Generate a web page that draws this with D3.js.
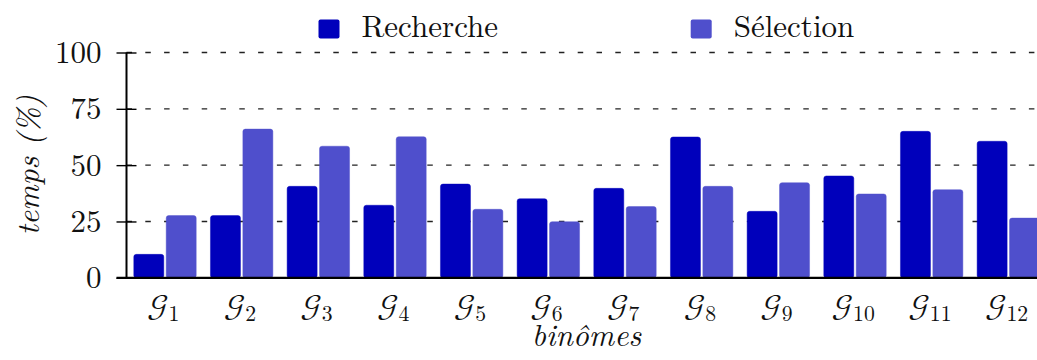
<!DOCTYPE html>
<html>
<head>
<meta charset="utf-8">
<script src="https://cdn.jsdelivr.net/npm/d3@7"></script>
<style>
  html, body { margin: 0; padding: 0; background: #fff; }
  svg { display: block; }
</style>
</head>
<body>
<svg id="chart" width="1037" height="360"></svg>
<script>
// Share of time (%) per pair of participants
const groups = ["1","2","3","4","5","6","7","8","9","10","11","12"];
const seriesNames = ["Recherche", "Sélection"];
const recherche = [10.4, 27.6, 40.6, 32.2, 41.6, 35.1, 39.7, 62.5, 29.5, 45.2, 65.0, 60.6];
const selection = [27.6, 66.0, 58.4, 62.6, 30.4, 24.9, 31.6, 40.6, 42.2, 37.2, 39.1, 26.5];
const yTicks = [0, 25, 50, 75, 100];
const colors = ["#0000bb", "#4f4fcc"];

const FONT = "\"Latin Modern Roman\", \"Liberation Serif\", serif";
const MATHFONT = "\"Latin Modern Math\", \"Latin Modern Roman\", serif";

const svg = d3.select("#chart");

const plotLeft = 126.5, plotRight = 1046.5, plotTop = 52.5, plotBottom = 277.8;

const y = d3.scaleLinear().domain([0, 100]).range([plotBottom, plotTop]);
const x0 = d3.scaleBand().domain(groups).range([plotLeft, plotRight]).padding(0);
const x1 = d3.scaleBand().domain(seriesNames).range([7.3, 69.7]).paddingInner(0.074);

const rows = groups.map((g, i) => ({ g, values: [recherche[i], selection[i]] }));

// dashed horizontal grid
svg.append("g")
  .selectAll("line")
  .data(yTicks.filter(d => d > 0))
  .join("line")
  .attr("x1", plotLeft).attr("x2", 1037)
  .attr("y1", d => y(d)).attr("y2", d => y(d))
  .attr("stroke", "#222")
  .attr("stroke-width", 1.3)
  .attr("stroke-dasharray", "5.5,13.3");

// bars
const gGroups = svg.append("g")
  .selectAll("g")
  .data(rows)
  .join("g")
  .attr("transform", d => `translate(${x0(d.g)},0)`);

gGroups.selectAll("rect")
  .data(d => d.values.map((v, k) => ({ k, v })))
  .join("rect")
  .attr("x", d => x1(seriesNames[d.k]))
  .attr("width", x1.bandwidth())
  .attr("y", d => y(d.v))
  .attr("height", d => y(0) - y(d.v))
  .attr("rx", 2.5)
  .attr("fill", d => colors[d.k])
  .attr("stroke", d => colors[d.k])
  .attr("stroke-opacity", 0.45)
  .attr("stroke-width", 1);

// y axis
const yAxis = d3.axisLeft(y).tickValues(yTicks).tickSize(0).tickPadding(0).tickFormat(d3.format("d"));
const ya = svg.append("g").attr("transform", `translate(${plotLeft},0)`).call(yAxis);
ya.attr("font-family", null).attr("font-size", null);
ya.select(".domain").remove();
ya.selectAll(".tick text")
  .attr("x", -25)
  .attr("dy", "0.32em")
  .style("font-family", FONT)
  .style("font-size", "31px")
  .attr("fill", "#111");
ya.selectAll(".tick").append("line")
  .attr("x1", -10).attr("x2", 10)
  .attr("stroke", "#000").attr("stroke-width", 1.4);

svg.append("line")
  .attr("x1", plotLeft).attr("x2", plotLeft)
  .attr("y1", plotTop).attr("y2", plotBottom + 1)
  .attr("stroke", "#000").attr("stroke-width", 2);

svg.append("line")
  .attr("x1", plotLeft - 10).attr("x2", 1037)
  .attr("y1", plotBottom).attr("y2", plotBottom)
  .attr("stroke", "#000").attr("stroke-width", 2.2);

// x tick labels: calligraphic G with subscript index
const xl = svg.append("g")
  .selectAll("text")
  .data(groups)
  .join("text")
  .attr("x", d => x0(d) + x0.bandwidth() / 2 - 1.5)
  .attr("y", 316)
  .attr("text-anchor", "middle")
  .attr("fill", "#111")
  .style("font-family", FONT)
  .style("font-size", "31px");
xl.append("tspan").text("𝒢").style("font-family", MATHFONT);
xl.append("tspan").text(d => d).attr("dy", 4.6).style("font-size", "21.7px");

// axis titles
svg.append("text")
  .attr("x", (plotLeft + plotRight) / 2)
  .attr("y", 346)
  .attr("text-anchor", "middle")
  .attr("fill", "#111")
  .style("font-family", FONT)
  .style("font-size", "31px")
  .style("font-style", "italic")
  .text("binômes");

svg.append("text")
  .attr("transform", `translate(39,${(plotTop + plotBottom) / 2}) rotate(-90)`)
  .attr("text-anchor", "middle")
  .attr("fill", "#111")
  .style("font-family", FONT)
  .style("font-size", "31px")
  .style("font-style", "italic")
  .text("temps (%)");

// legend
const legendX = [318.5, 690.7];
const leg = svg.append("g")
  .selectAll("g")
  .data(seriesNames)
  .join("g")
  .attr("transform", (d, i) => `translate(${legendX[i]},19.5)`);
leg.append("rect")
  .attr("width", 21).attr("height", 19).attr("rx", 2)
  .attr("fill", (d, i) => colors[i]);
leg.append("text")
  .attr("x", 43).attr("y", 17.2)
  .attr("fill", "#111")
  .style("font-family", FONT)
  .style("font-size", "31px")
  .text(d => d);
</script>
</body>
</html>
